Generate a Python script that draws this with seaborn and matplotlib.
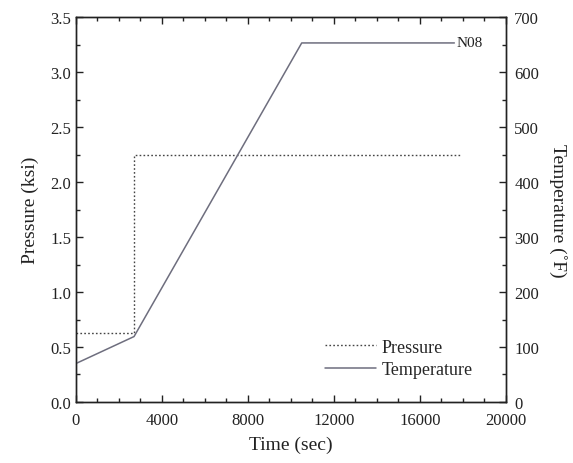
import matplotlib
matplotlib.use("Agg")
import matplotlib.pyplot as plt
from matplotlib.ticker import MultipleLocator
import seaborn as sns
import pandas as pd

# Data
time_p = [0, 2700, 2700, 17900]
pressure = [0.63, 0.63, 2.25, 2.25]
time_t = [0, 2700, 10500, 17600]
temperature = [70, 119, 653, 653]
curve_label = "N08"

sns.set_theme(style="ticks")
plt.rcParams['font.family'] = ['Liberation Serif', 'DejaVu Serif']

fig = plt.figure(figsize=(5.73, 4.64), dpi=100)
ax = fig.add_axes([0.1326, 0.1315, 0.7504, 0.8295])
ax2 = ax.twinx()

dfp = pd.DataFrame({"t": time_p, "p": pressure})
dft = pd.DataFrame({"t": time_t, "T": temperature})

sns.lineplot(data=dfp, x="t", y="p", ax=ax, color="#444444", lw=1.0,
             linestyle=(0, (1.2, 1.6)), sort=False, estimator=None)
sns.lineplot(data=dft, x="t", y="T", ax=ax2, color="#6e6e7e", lw=1.1,
             sort=False, estimator=None)

ax.set_xlim(0, 20000)
ax.set_ylim(0, 3.5)
ax2.set_ylim(0, 700)

ax.xaxis.set_major_locator(MultipleLocator(4000))
ax.xaxis.set_minor_locator(MultipleLocator(1000))
ax.yaxis.set_major_locator(MultipleLocator(0.5))
ax.yaxis.set_minor_locator(MultipleLocator(0.25))
ax2.yaxis.set_major_locator(MultipleLocator(100))
ax2.yaxis.set_minor_locator(MultipleLocator(50))
ax.yaxis.set_major_formatter(matplotlib.ticker.FormatStrFormatter('%.1f'))

for a in (ax, ax2):
    for s in a.spines.values():
        s.set_color("#222222")
        s.set_linewidth(1.0)
    a.set_facecolor("none")

ax.tick_params(axis="both", which="both", direction="in", labelsize=12,
               colors="#222222", width=1.0)
ax.tick_params(axis="x", which="both", top=True, labeltop=False, pad=7)
ax.tick_params(which="major", length=5)
ax.tick_params(which="minor", length=3)
ax2.tick_params(axis="y", which="both", direction="in", labelsize=12,
                colors="#222222", width=1.0, pad=6)
ax2.tick_params(which="major", length=5)
ax2.tick_params(which="minor", length=3)

ax.set_xlabel("Time (sec)", fontsize=14, color="#222222", labelpad=6)
ax.set_ylabel("Pressure (ksi)", fontsize=14, color="#222222", labelpad=8)
ax2.set_ylabel("Temperature (\u02daF)", fontsize=14, color="#222222",
               rotation=270, labelpad=20)

ax2.text(time_t[-1] + 80, temperature[-1], curve_label, fontsize=11,
         va="center", ha="left", color="#222222")

h1 = ax.get_lines()[0]
h2 = ax2.get_lines()[0]
ax.legend([h1, h2], ["Pressure", "Temperature"], loc="lower right",
          bbox_to_anchor=(0.96, 0.02), frameon=False, fontsize=13,
          handlelength=2.8, handletextpad=0.3, labelspacing=0.3)

fig.savefig("out.png", dpi=100)
